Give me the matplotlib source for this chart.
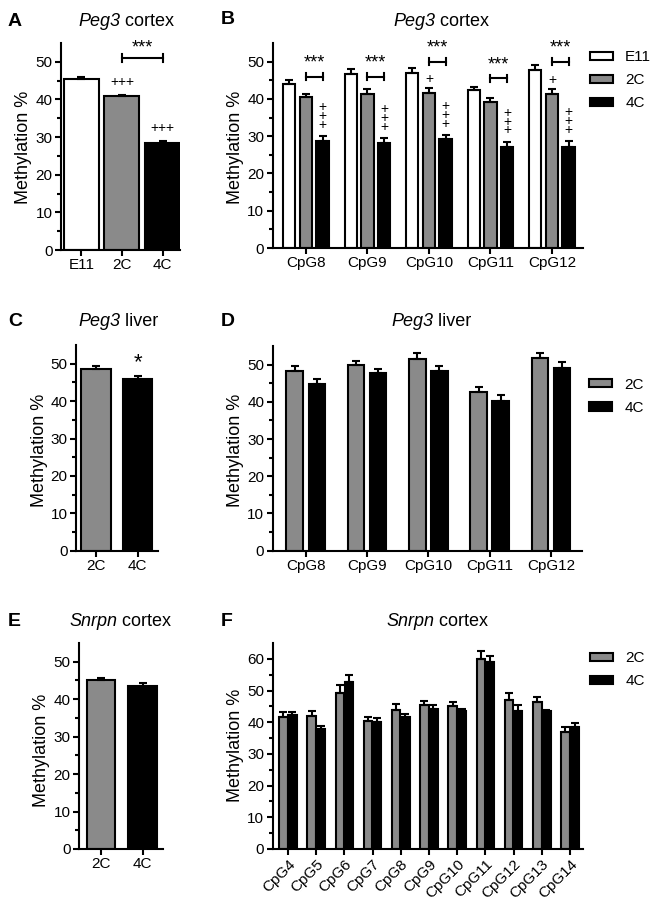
import numpy as np
import matplotlib
matplotlib.use('Agg')
import matplotlib.pyplot as plt

plt.rcParams['font.family'] = ['Liberation Sans', 'DejaVu Sans']
plt.rcParams['axes.linewidth'] = 1.5
plt.rcParams['xtick.major.width'] = 1.5
plt.rcParams['ytick.major.width'] = 1.5
plt.rcParams['ytick.minor.width'] = 1.5
plt.rcParams['xtick.labelsize'] = 11
plt.rcParams['ytick.labelsize'] = 11

WHITE, GRAY, BLACK = 'white', '#8a8a8a', 'black'

# ---- data ----
# A: Peg3 cortex, overall
a_groups = ['E11', '2C', '4C']
a_vals = [45.5, 40.8, 28.5]
a_err = [0.5, 0.5, 0.5]

# B: Peg3 cortex per CpG
b_sites = ['CpG8', 'CpG9', 'CpG10', 'CpG11', 'CpG12']
b_e11 = [44.0, 46.7, 47.0, 42.3, 47.8]
b_e11_err = [1.2, 1.2, 1.4, 1.0, 1.2]
b_2c = [40.5, 41.3, 41.7, 39.2, 41.3]
b_2c_err = [0.9, 1.3, 1.2, 1.0, 1.3]
b_4c = [28.8, 28.2, 29.3, 27.2, 27.2]
b_4c_err = [1.3, 1.2, 0.9, 1.3, 1.4]
b_bracket_y = [46.0, 46.0, 50.0, 45.5, 50.0]
b_single_plus = [False, False, True, False, True]

# C: Peg3 liver, overall
c_groups = ['2C', '4C']
c_vals = [48.7, 46.0]
c_err = [0.6, 0.7]

# D: Peg3 liver per CpG
d_sites = ['CpG8', 'CpG9', 'CpG10', 'CpG11', 'CpG12']
d_2c = [48.2, 49.8, 51.5, 42.7, 51.7]
d_2c_err = [1.3, 1.3, 1.5, 1.4, 1.3]
d_4c = [44.8, 47.8, 48.3, 40.3, 49.2]
d_4c_err = [1.3, 1.1, 1.2, 1.5, 1.4]

# E: Snrpn cortex, overall
e_groups = ['2C', '4C']
e_vals = [45.0, 43.6]
e_err = [0.6, 0.6]

# F: Snrpn cortex per CpG
f_sites = ['CpG4', 'CpG5', 'CpG6', 'CpG7', 'CpG8', 'CpG9', 'CpG10',
           'CpG11', 'CpG12', 'CpG13', 'CpG14']
f_2c = [41.7, 42.0, 49.3, 40.3, 44.0, 45.4, 45.0, 60.0, 47.0, 46.5, 36.9]
f_2c_err = [1.5, 1.5, 2.3, 1.5, 1.8, 1.4, 1.3, 2.5, 2.2, 1.6, 1.5]
f_4c = [42.3, 37.9, 52.6, 40.2, 41.8, 44.2, 43.5, 59.0, 43.7, 43.6, 38.4]
f_4c_err = [1.0, 1.0, 2.4, 1.2, 0.9, 1.2, 0.8, 2.0, 1.6, 0.4, 1.5]

W, H = 661, 909
fig = plt.figure(figsize=(W / 100, H / 100), dpi=100)


def px_axes(l, t, r, b):
    return fig.add_axes([l / W, 1 - b / H, (r - l) / W, (b - t) / H])


def style(ax, ymax, step=10):
    ax.spines['top'].set_visible(False)
    ax.spines['right'].set_visible(False)
    ax.set_ylim(0, ymax)
    ax.set_yticks(np.arange(0, ymax, step))
    ax.set_yticks(np.arange(5, ymax, step), minor=True)
    ax.tick_params(axis='both', direction='out', length=4, pad=2)
    ax.tick_params(axis='y', which='minor', length=3)


def bars(ax, x, vals, errs, color, width):
    ax.bar(x, vals, width=width, color=color, edgecolor='black', linewidth=1.5, zorder=2)
    ax.errorbar(x, vals, yerr=[np.zeros(len(vals)), errs], fmt='none', ecolor='black',
                elinewidth=1.5, capsize=3, capthick=1.5, zorder=3)


def bracket(ax, x1, x2, y, h=1.0):
    ax.plot([x1, x2], [y, y], color='black', lw=1.5, clip_on=False)
    ax.plot([x1, x1], [y - h, y + h], color='black', lw=1.5, clip_on=False)
    ax.plot([x2, x2], [y - h, y + h], color='black', lw=1.5, clip_on=False)


def letter(x, y, s):
    fig.text(x / W, 1 - y / H, s, fontsize=14, fontweight='bold', va='center', ha='left')


def title(x_split, y, gene, rest):
    fig.text(x_split / W, 1 - y / H, gene, fontsize=13, style='italic', va='center', ha='right')
    fig.text(x_split / W, 1 - y / H, ' ' + rest, fontsize=13, va='center', ha='left')


def ylab(x, y):
    fig.text(x / W, 1 - y / H, 'Methylation %', fontsize=13, rotation=90, va='center', ha='center')


def legend(ax, colors, names, y):
    handles = [plt.Rectangle((0, 0), 1, 1, facecolor=c, edgecolor='black', linewidth=1.5)
               for c in colors]
    ax.legend(handles, names, loc='upper left', bbox_to_anchor=(1.004, y),
              frameon=False, fontsize=11, handlelength=1.5, handleheight=0.45,
              labelspacing=0.6, handletextpad=0.8, borderaxespad=0)


# ---- A ----
ax = px_axes(61, 43, 180, 250)
xa = np.arange(len(a_groups))
bars(ax, xa, a_vals, a_err, [WHITE, GRAY, BLACK], 0.86)
style(ax, 55)
ax.set_xlim(-0.5, 2.43)
ax.set_xticks(xa)
ax.set_xticklabels(a_groups)
ax.text(1, 44.6, '+++', ha='center', va='center', fontsize=10)
ax.text(2, 32.4, '+++', ha='center', va='center', fontsize=10)
bracket(ax, 1, 2, 51)
ax.text(1.5, 53.8, '***', ha='center', va='center', fontsize=13)
letter(8, 22, 'A')
title(120, 22, 'Peg3', 'cortex')
ylab(24, 147)

# ---- B ----
ax = px_axes(272.7, 43, 582.7, 248)
xb = np.arange(len(b_sites))
off, bw = 0.27, 0.2
bars(ax, xb - off, b_e11, b_e11_err, WHITE, bw)
bars(ax, xb, b_2c, b_2c_err, GRAY, bw)
bars(ax, xb + off, b_4c, b_4c_err, BLACK, bw)
style(ax, 55)
ax.set_xlim(-0.54, 4.5)
ax.set_xticks(xb)
ax.set_xticklabels(b_sites)
for i in range(len(b_sites)):
    bracket(ax, xb[i], xb[i] + off, b_bracket_y[i])
    ax.text(xb[i] + off / 2, b_bracket_y[i] + 3.6, '***', ha='center', va='center', fontsize=13)
    top = b_4c[i] + b_4c_err[i]
    ax.text(xb[i] + off, top + 5.4, '+\n+\n+', ha='center', va='center',
            fontsize=10, linespacing=0.53)
    if b_single_plus[i]:
        ax.text(xb[i], b_2c[i] + b_2c_err[i] + 2.4, '+', ha='center', va='center', fontsize=10)
legend(ax, (WHITE, GRAY, BLACK), ['E11', '2C', '4C'], 0.995)
letter(221, 20, 'B')
title(435, 22, 'Peg3', 'cortex')
ylab(236, 147)

# ---- C ----
ax = px_axes(76, 345, 158, 550.7)
xc = np.arange(len(c_groups))
bars(ax, xc, c_vals, c_err, [GRAY, BLACK], 0.7)
style(ax, 55)
ax.set_xlim(-0.48, 1.49)
ax.set_xticks(xc)
ax.set_xticklabels(c_groups)
ax.text(1, 50.3, '*', ha='center', va='center', fontsize=16)
letter(8, 322, 'C')
title(120, 322, 'Peg3', 'liver')
ylab(39, 450)

# ---- D ----
ax = px_axes(272.7, 346, 581.7, 550.7)
xd = np.arange(len(d_sites))
bars(ax, xd - 0.18, d_2c, d_2c_err, GRAY, 0.27)
bars(ax, xd + 0.18, d_4c, d_4c_err, BLACK, 0.27)
style(ax, 55)
ax.set_xlim(-0.54, 4.5)
ax.set_xticks(xd)
ax.set_xticklabels(d_sites)
legend(ax, (GRAY, BLACK), ['2C', '4C'], 0.875)
letter(221, 322, 'D')
title(433, 322, 'Peg3', 'liver')
ylab(236, 450)

# ---- E ----
ax = px_axes(79, 643, 163, 849)
xe = np.arange(len(e_groups))
bars(ax, xe, e_vals, e_err, [GRAY, BLACK], 0.68)
style(ax, 55)
ax.set_xlim(-0.53, 1.49)
ax.set_xticks(xe)
ax.set_xticklabels(e_groups)
letter(8, 622, 'E')
title(117, 622, 'Snrpn', 'cortex')
ylab(42, 750)

# ---- F ----
ax = px_axes(272.7, 643, 582.7, 849)
xf = np.arange(len(f_sites))
bars(ax, xf - 0.16, f_2c, f_2c_err, GRAY, 0.3)
bars(ax, xf + 0.16, f_4c, f_4c_err, BLACK, 0.3)
style(ax, 65)
ax.set_xlim(-0.54, 10.45)
ax.set_xticks(xf)
ax.set_xticklabels(f_sites, rotation=45, ha='right', rotation_mode='anchor')
legend(ax, (GRAY, BLACK), ['2C', '4C'], 0.99)
letter(221, 622, 'F')
title(434, 622, 'Snrpn', 'cortex')
ylab(236, 745)

fig.savefig('out.png', dpi=100)
